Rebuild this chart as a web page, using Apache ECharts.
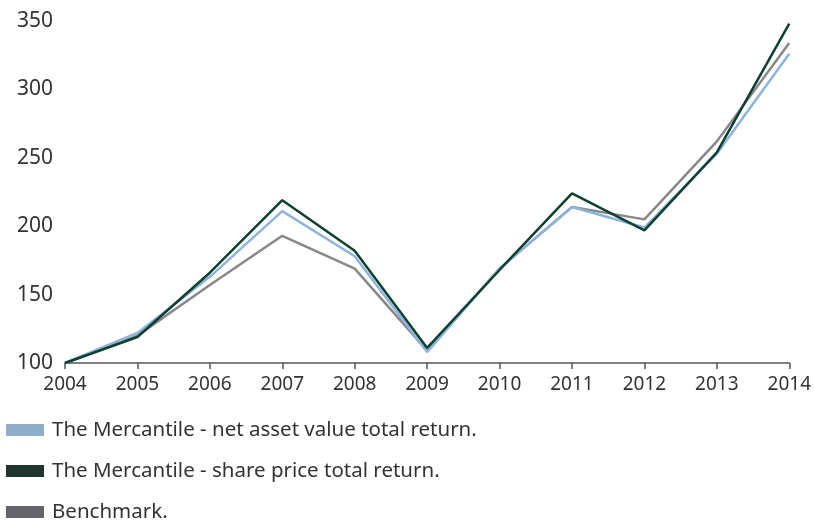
<!DOCTYPE html>
<html>
<head>
<meta charset="utf-8">
<script src="https://cdn.jsdelivr.net/npm/echarts@6/dist/echarts.min.js"></script>
<style>
html,body{margin:0;padding:0;background:#fff;}
#chart{width:814px;height:521px;}
</style>
</head>
<body>
<div id="chart"></div>
<script>
const years = ['2004','2005','2006','2007','2008','2009','2010','2011','2012','2013','2014'];
const navReturn = [100, 122, 163, 211, 178, 108, 169, 214, 199, 253, 326];
const sharePriceReturn = [100, 119, 166, 219, 182, 111, 168, 224, 197, 254, 348];
const benchmark = [100, 120, 157, 193, 169, 109, 169, 214, 205, 262, 334];
const seriesNames = ['The Mercantile - net asset value total return.', 'The Mercantile - share price total return.', 'Benchmark.'];
const legendColors = ['#8eaecc', '#1f3530', '#636468'];
const lineColors = ['#8cb4dc', '#0d4030', '#888888'];

const chart = echarts.init(document.getElementById('chart'));
const font = 'Noto Sans';
const legendTops = [419, 460, 501];
const legends = seriesNames.map((n, i) => ({
  orient: 'vertical', left: 6, top: legendTops[i], icon: 'rect',
  itemWidth: 38, itemHeight: 12, padding: 0,
  textStyle: {color: '#333', fontFamily: font, fontSize: 20.5, lineHeight: 22, padding: [0,0,0,3]},
  data: [{name: n, itemStyle: {color: legendColors[i]}}]
}));
chart.setOption({
  animation: false,
  backgroundColor: '#fff',
  grid: {left: 65, right: 23, top: 21, bottom: 158},
  xAxis: {
    type: 'category', data: years, boundaryGap: false,
    axisLine: {lineStyle: {color: '#555', width: 1.5}},
    axisTick: {length: 6, lineStyle: {color: '#555', width: 1.5}},
    axisLabel: {color: '#333', fontFamily: font, fontSize: 19, margin: 12}
  },
  yAxis: {
    type: 'value', min: 100, max: 350, interval: 50,
    axisLine: {show: false}, axisTick: {show: false}, splitLine: {show: false},
    axisLabel: {color: '#333', fontFamily: font, fontSize: 21, margin: 12}
  },
  legend: legends,
  series: [
    {name: seriesNames[0], type: 'line', data: navReturn, symbol: 'none', z: 3,
     lineStyle: {color: lineColors[0], width: 2.5}, itemStyle: {color: lineColors[0]}},
    {name: seriesNames[1], type: 'line', data: sharePriceReturn, symbol: 'none', z: 4,
     lineStyle: {color: lineColors[1], width: 2.5}, itemStyle: {color: lineColors[1]}},
    {name: seriesNames[2], type: 'line', data: benchmark, symbol: 'none', z: 2,
     lineStyle: {color: lineColors[2], width: 2.5}, itemStyle: {color: lineColors[2]}}
  ]
});
</script>
</body>
</html>
